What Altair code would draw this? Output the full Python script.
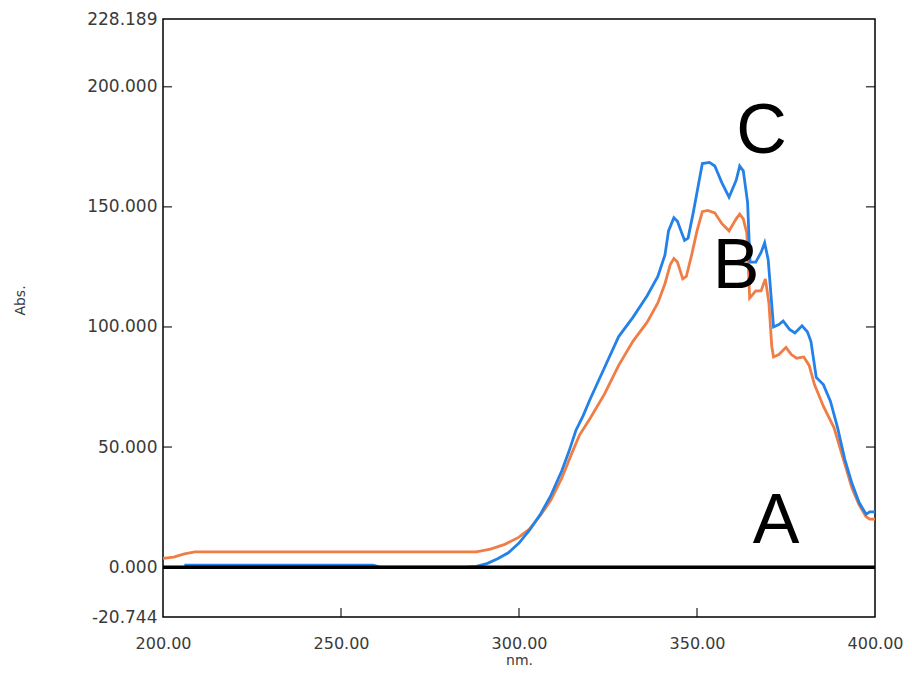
import altair as alt
import pandas as pd

# Series C (blue)
c_nm = [206, 259, 261, 285, 288, 291, 294, 297, 300, 303, 306, 309, 312, 314, 316, 318, 320, 324, 328,
        332, 336, 339, 341, 342, 343.5, 344.5, 346.5, 347.5, 349, 350.5, 351.5, 353.5, 355, 357, 359,
        361, 362, 363, 364.2, 364.9, 366.5, 368, 369, 370, 370.8, 371.5, 373, 374.2, 376, 377.5, 379.5,
        381, 382, 383.5, 385.5, 387.5, 389.5, 391.5, 393.5, 395.5, 397.5, 398.5, 400]
c_abs = [0.8, 0.8, 0.0, 0.0, 0.3, 1.5, 3.5, 6, 10, 15.5, 22, 30, 40, 48, 57, 63, 70, 83, 96,
         104, 113, 121, 130, 140, 145.5, 144, 136, 137, 148, 160, 168, 168.5, 167, 160, 154,
         161, 167, 165, 152, 127, 127, 131, 135, 128, 113, 100, 101, 102.5, 99, 97.5, 100.5,
         98, 94, 79, 76, 69, 58, 45, 35, 27, 22, 23, 23]

# Series B (orange)
b_nm = [200, 203, 206, 209, 288, 292, 296, 300, 303, 306, 309, 312, 315, 317, 320, 324, 328, 332, 336,
        339, 341, 342.5, 343.5, 344.5, 346, 347, 348.5, 350, 351.5, 353, 355, 357, 359, 361, 362, 363,
        364, 364.8, 366.5, 368, 369.2, 370.2, 371, 371.5, 373, 375, 376.5, 378, 380, 381.5, 383, 385.5,
        388.5, 391.5, 393.5, 395.5, 397.5, 398.5, 400]
b_abs = [3.7, 4.2, 5.5, 6.4, 6.4, 7.5, 9.5, 12.5, 16, 21.5, 28, 37, 48, 55, 62, 72, 84, 94, 102,
         110, 118, 126, 128.5, 127, 120, 121, 130, 140, 148, 148.5, 147.5, 143, 140, 145, 147, 145,
         139, 112, 115, 115, 120, 110, 92, 87.5, 88.5, 91.5, 88.5, 87, 87.5, 84, 76, 67,
         58, 43, 33, 26, 21, 20, 20]

# Series A (black baseline)
a_nm = [200, 400]
a_abs = [0, 0]

# Curve labels
lab_text = ["A", "B", "C"]
lab_nm = [372.2, 361.0, 368.1]
lab_abs = [10.0, 116.25, 172.5]

# Axis ticks
y_ticks = [-20.744, 0, 50, 100, 150, 200, 228.189]
y_inner_ticks = [0, 50, 100, 150, 200]
x_ticks = [200, 250, 300, 350, 400]
x_inner_ticks = [250, 300, 350]

W, H = 712, 598
xdom = [200, 400]
ydom = [-20.744, 228.189]

xs = alt.Scale(domain=xdom, nice=False, zero=False)
ys = alt.Scale(domain=ydom, nice=False, zero=False)

df_b = pd.DataFrame({"nm": b_nm, "abs": b_abs})
df_c = pd.DataFrame({"nm": c_nm, "abs": c_abs})
df_a = pd.DataFrame({"nm": a_nm, "abs": a_abs})
df_lab = pd.DataFrame({"t": lab_text, "nm": lab_nm, "abs": lab_abs})
df_yt = pd.DataFrame({"v": y_inner_ticks})
df_xt = pd.DataFrame({"v": x_inner_ticks})

x_enc = alt.X("nm:Q", scale=xs, axis=alt.Axis(
    title="nm.", values=x_ticks, format=".2f", tickSize=0, domain=False, grid=False,
    labelFont="DejaVu Sans", labelFontSize=16, labelColor="#3a3a3a", labelPadding=18,
    labelOverlap=False, labelFlush=False,
    titleFont="DejaVu Sans", titleFontSize=14, titleFontWeight="normal", titleColor="#3a3a3a",
    titlePadding=2))
y_enc = alt.Y("abs:Q", scale=ys, axis=alt.Axis(
    title="Abs.", values=y_ticks, tickSize=0, domain=False, grid=False,
    labelExpr="replace(format(datum.value, '.3f'), '\u2212', '-')",
    labelFont="DejaVu Sans", labelFontSize=17, labelColor="#3a3a3a", labelPadding=6,
    labelOverlap=False, labelFlush=False,
    titleFont="DejaVu Sans", titleFontSize=14, titleFontWeight="normal", titleColor="#3a3a3a",
    titleX=-136, titleY=H / 2 - 18))

line_b = alt.Chart(df_b).mark_line(color="#ef7d45", strokeWidth=2.8).encode(x=x_enc, y=y_enc)
line_c = alt.Chart(df_c).mark_line(color="#2381e8", strokeWidth=2.8).encode(
    x=alt.X("nm:Q", scale=xs), y=alt.Y("abs:Q", scale=ys))
line_a = alt.Chart(df_a).mark_line(color="black", strokeWidth=3.5).encode(
    x=alt.X("nm:Q", scale=xs), y=alt.Y("abs:Q", scale=ys))

labels = alt.Chart(df_lab).mark_text(
    font="Liberation Sans", fontSize=70, color="black", align="center", baseline="alphabetic"
).encode(x=alt.X("nm:Q", scale=xs), y=alt.Y("abs:Q", scale=ys), text="t:N")

tick_left = alt.Chart(df_yt).mark_tick(orient="horizontal", size=9, thickness=1.5, color="black").encode(
    y=alt.Y("v:Q", scale=ys), x=alt.value(4.5))
tick_right = alt.Chart(df_yt).mark_tick(orient="horizontal", size=9, thickness=1.5, color="black").encode(
    y=alt.Y("v:Q", scale=ys), x=alt.value(W - 4.5))
tick_bottom = alt.Chart(df_xt).mark_tick(orient="vertical", size=9, thickness=1.5, color="black").encode(
    x=alt.X("v:Q", scale=xs), y=alt.value(H - 4.5))

chart = alt.layer(line_b, line_c, line_a, labels, tick_left, tick_right, tick_bottom).properties(
    width=W, height=H,
    autosize=alt.AutoSizeParams(type="none"),
    padding={"left": 155, "top": 11, "right": 29, "bottom": 52},
    background="white",
).configure_view(stroke="black", strokeWidth=1.5)

chart.save("out.html", embed_options={"renderer": "svg", "actions": False})
